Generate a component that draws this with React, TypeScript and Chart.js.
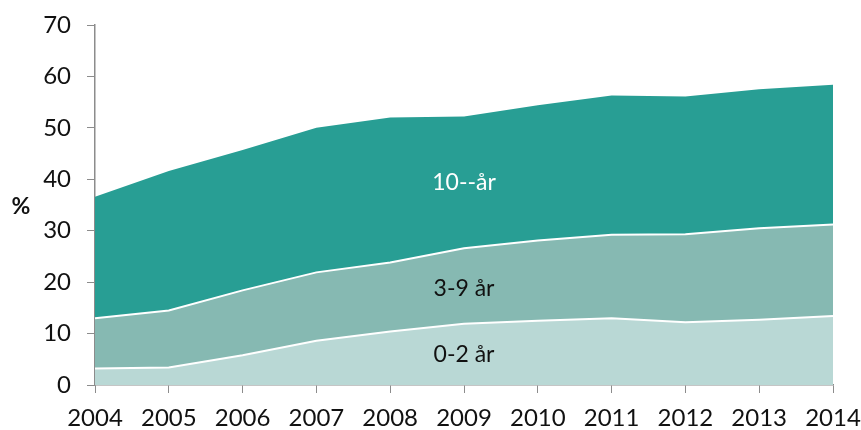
import React, { useEffect, useRef } from "react";
import { Chart, registerables } from "chart.js";

Chart.register(...registerables);

const years = ["2004", "2005", "2006", "2007", "2008", "2009", "2010", "2011", "2012", "2013", "2014"];
const age0to2 = [3.2, 3.4, 5.8, 8.6, 10.4, 11.9, 12.5, 13.0, 12.2, 12.7, 13.4];
const age3to9 = [9.8, 11.1, 12.6, 13.3, 13.4, 14.7, 15.6, 16.2, 17.1, 17.8, 17.8];
const age10plus = [23.6, 27.1, 27.3, 28.1, 28.2, 25.6, 26.3, 27.1, 26.8, 27.0, 27.2];
const seriesNames = ["0-2 år", "3-9 år", "10--år"];
const yTicks = [0, 10, 20, 30, 40, 50, 60, 70];

const FONT = "Lato, 'Open Sans', sans-serif";
const FS = 24;

const labelsPlugin = {
  id: "areaLabels",
  afterDatasetsDraw(chart: any) {
    const { ctx, scales } = chart;
    const x = scales.x.getPixelForValue(5);
    const items = [
      { text: seriesNames[2], v: 39.3, color: "#ffffff" },
      { text: seriesNames[1], v: 18.8, color: "#111111" },
      { text: seriesNames[0], v: 6.0, color: "#111111" },
    ];
    ctx.save();
    ctx.font = `${FS - 1}px ${FONT}`;
    ctx.textAlign = "center";
    ctx.textBaseline = "middle";
    items.forEach((it) => {
      ctx.fillStyle = it.color;
      ctx.fillText(it.text, x, scales.y.getPixelForValue(it.v));
    });
    ctx.font = `bold 23px ${FONT}`;
    ctx.fillStyle = "#111111";
    ctx.fillText("%", 21, (chart.chartArea.top + chart.chartArea.bottom) / 2 + 2);
    ctx.restore();
  },
};

export default function App() {
  const ref = useRef<HTMLCanvasElement>(null);
  useEffect(() => {
    if (!ref.current) return;
    const chart = new Chart(ref.current, {
      type: "line",
      data: {
        labels: years,
        datasets: [
          {
            label: seriesNames[0],
            data: age0to2,
            backgroundColor: "#B9D8D5",
            borderColor: "#ffffff",
            borderWidth: 2,
            fill: "origin",
            pointRadius: 0,
            tension: 0,
          },
          {
            label: seriesNames[1],
            data: age3to9,
            backgroundColor: "#86B9B2",
            borderColor: "#ffffff",
            borderWidth: 2,
            fill: "-1",
            pointRadius: 0,
            tension: 0,
          },
          {
            label: seriesNames[2],
            data: age10plus,
            backgroundColor: "#289E94",
            borderColor: "#289E94",
            borderWidth: 0,
            fill: "-1",
            pointRadius: 0,
            tension: 0,
          },
        ],
      },
      options: {
        animation: false,
        responsive: false,
        maintainAspectRatio: false,
        layout: { padding: { left: 0, right: 28, top: 25, bottom: 0 } },
        plugins: { legend: { display: false }, tooltip: { enabled: false } },
        scales: {
          x: {
            offset: false,
            grid: { drawOnChartArea: false, drawTicks: true, tickLength: 8, color: "#8c8c8c" },
            border: { color: "#8c8c8c", width: 1.5 },
            ticks: { color: "#111111", font: { family: FONT, size: FS }, padding: 11, maxRotation: 0 },
            afterFit: (s: any) => { s.height = 45; s.paddingLeft = 0; s.paddingRight = 0; },
          },
          y: {
            stacked: true,
            min: 0,
            max: 70,
            afterBuildTicks: (s: any) => { s.ticks = yTicks.map((v) => ({ value: v })); },
            grid: { drawOnChartArea: false, drawTicks: true, tickLength: 8, color: "#8c8c8c" },
            border: { color: "#8c8c8c", width: 1.5 },
            ticks: { color: "#111111", font: { family: FONT, size: FS }, padding: 16 },
            afterFit: (s: any) => { s.width = 95; s.paddingTop = 0; s.paddingBottom = 0; },
          },
        },
      },
      plugins: [labelsPlugin],
    });
    return () => chart.destroy();
  }, []);
  return (
    <div style={{ position: "fixed", left: 0, top: 0, width: 861, height: 430, background: "#fff" }}>
      <canvas ref={ref} width={861} height={430} style={{ width: 861, height: 430 }} />
    </div>
  );
}
